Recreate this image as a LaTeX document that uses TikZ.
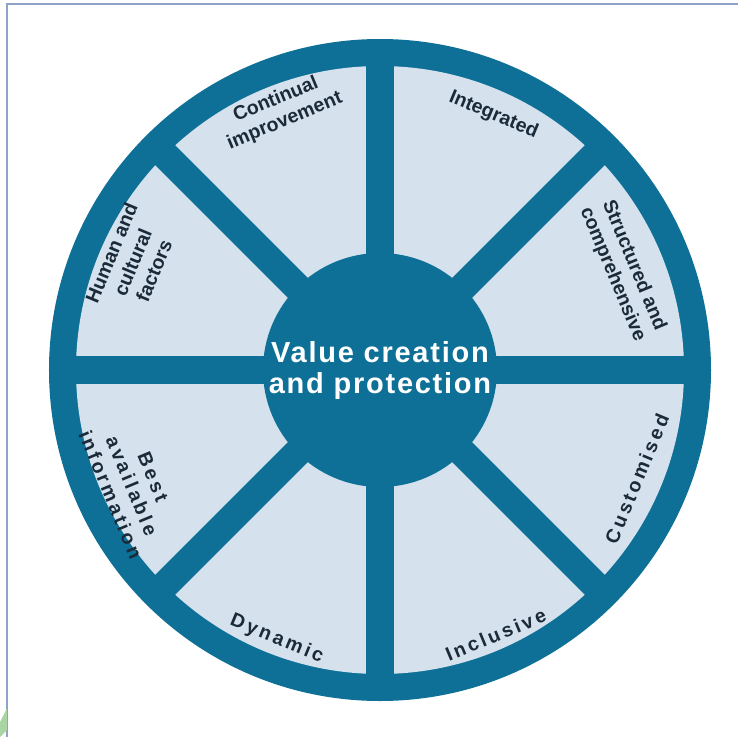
\documentclass[tikz,border=0pt]{standalone}
\usepackage{fontspec}
\setmainfont{Liberation Sans}
\usetikzlibrary{positioning}
\definecolor{anneau}{HTML}{0E7096}
\definecolor{secteur}{HTML}{D5E2EE}
\definecolor{texteC}{HTML}{1B2A38}
\definecolor{cadre}{HTML}{8FA2C9}
\definecolor{vertF}{HTML}{A9D5A2}
\tikzset{
  lab/.style={align=center, text=texteC, inner sep=0pt,
              font=\bfseries\fontsize{19.5}{23}\selectfont},
  labsp/.style={lab, font=\bfseries\fontsize{19.5}{23}\selectfont\addfontfeature{LetterSpace=15}},
  spoke/.style={line width=28pt, draw=anneau},
  coeur/.style={circle, fill=anneau, minimum size=234pt, inner sep=0pt, text=white, align=center,
                font=\bfseries\fontsize{29}{31}\selectfont\addfontfeature{LetterSpace=6}},
}
\begin{document}
\begin{tikzpicture}[x=1pt,y=1pt]
  \useasboundingbox (-380,-367) rectangle (358,370);
  \draw[cadre, line width=2pt] (-373,-367) -- (-373,366) -- (358,366);
  \fill[vertF] (-380,-352) -- (-373,-338) -- (-373,-360) -- (-380,-367) -- cycle;
  % roue
  \fill[anneau] (0,0) circle (331);
  \fill[secteur] (0,0) circle (304);
  \foreach \a in {0,45,...,135} \draw[spoke] (\a:318) -- (\a+180:318);
  \node[coeur] (vc) at (0,0) {Value creation\\and protection};
  % secteurs
  \node[lab, rotate=22.5] (ci) at (111:278) {Continual\\improvement};
  \node[lab, rotate=-22.5] (ig) at (66:279) {Integrated};
  \node[lab, rotate=-67.5] (sc) at (22.4:263) {Structured and\\comprehensive};
  \node[labsp, rotate=67.5] (cu) at (-23:279) {Customised};
  \node[labsp, rotate=22.5] (il) at (-66.4:289) {Inclusive};
  \node[labsp, rotate=-22.5] (dy) at (-111:288) {Dynamic};
  \node[labsp, rotate=-67.5] (ba) at (-155:274) {Best\\available\\information};
  \node[lab, rotate=67.5] (hc) at (156.4:270) {Human and\\cultural\\factors};
\end{tikzpicture}
\end{document}
